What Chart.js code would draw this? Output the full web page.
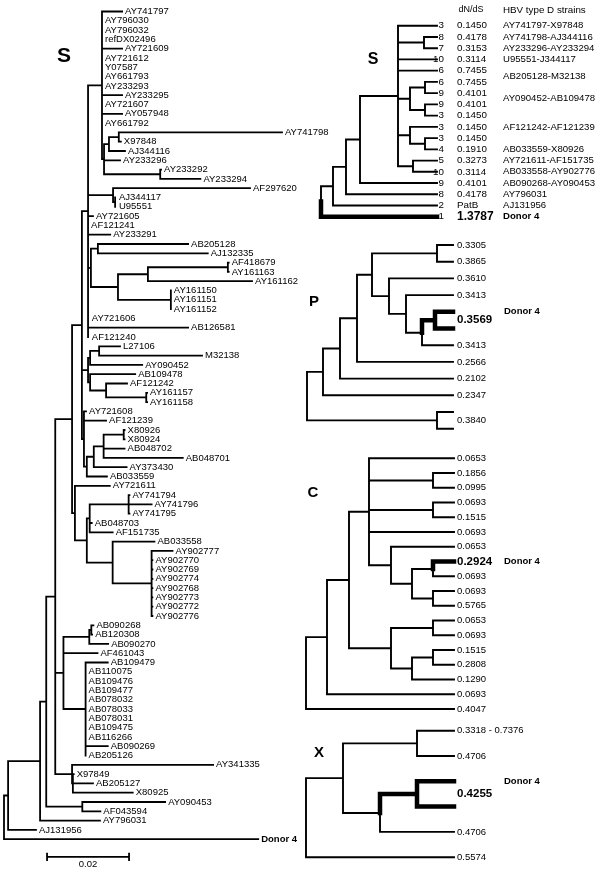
<!DOCTYPE html>
<html>
<head>
<meta charset="utf-8">
<title>HBV type D trees</title>
<script src="https://cdn.jsdelivr.net/npm/chart.js@4.4.1/dist/chart.umd.min.js"></script>
<style>
  html, body { margin: 0; padding: 0; background: #fff; }
  canvas { display: block; }
</style>
</head>
<body>
<canvas id="myChart" width="600" height="872"></canvas>
<script>
// ---- data ----

// S gene tree, branch lengths in substitutions per site (scale bar 0.02)
const cladeT = '(AY741797:0.0049,AY796030:0,AY796032:0,refDX02496:0,AY721609:0.0049,AY721612:0,Y07587:0,AY661793:0,AY233293:0,AY233295:0.0049,AY721607:0,AY057948:0.0049,AY661792:0,' +
  '(((AY741798:0.0398,X97848:0.0005):0.0024,AJ344116:0.0039):0.0012,AY233296:0.0039,(AY233292:0.0002,AY233294:0.0098):0.0137):0.0005):0.0034';
const cladeM = '(' + cladeT + ',(AF297620:0.0334,(AJ344117:0.0002,U95551:0.0002):0.0005):0.0061,AY721605:0.0012,AF121241:0,AY233291:0.0054,' +
  '((AB205128:0.0220,AJ132335:0.0268):0.0017,(((AF418679:0.0002,AY161163:0.0002):0.0195,AY161162:0.0254):0.0073,(AY161150:0,AY161151:0,AY161152:0):0.0129):0.0066):0.0007,' +
  'AY721606:0.0002,AB126581:0.0244,AF121240:0.0002):0.0015';
const cladeK = '(' + cladeM + ',(((L27106:0.0051,M32138:0.0251):0.0022,AY090452:0.0127):0.0005,(AB109478:0.0110,(AF121242:0.0051,(AY161157:0.0002,AY161158:0.0002):0.0098):0.0039):0.0005):0.0015,' +
  '(AY721608:0.0005,AF121239:0.0054,((((X80926:0.0002,X80924:0.0002):0.0049,AB048702:0.0051,AB048701:0.0193):0.0024,AY373430:0.0080):0.0017,AB033559:0.0049):0.0007):0.0005):0.0024';
const cladeJ = '(' + cladeK + ',(AY721611:0.0085,(((AY741794:0.0002,AY741796:0.0056,AY741795:0.0002):0.0095,AB048703:0.0005,AF151735:0.0056):0.0007,' +
  '(AB033558:0.0102,(AY902777:0.0051,AY902770:0.0002,AY902769:0.0002,AY902774:0.0002,AY902768:0.0002,AY902773:0.0002,AY902772:0.0002,AY902776:0.0002):0.0095):0.0063):0.0029):0.0007):0.0041';
const cladeA = '(' + cladeJ + ',(((AB090268:0.0005,AB120308:0.0002):0.0005,AB090270:0.0046):0.0063,AF461043:0.0083,' +
  '(AB109479:0.0054,AB110075:0,AB109476:0,AB109477:0,AB078032:0,AB078033:0,AB078031:0,AB109475:0,AB116266:0,AB090269:0.0054,AB205126:0):0.0054):0.0020,' +
  '(AY341335:0.0344,(X97849:0.0002,AB205127:0.0049,X80925:0.0146):0.0002):0.0041):0.0022';
const treeS = '((((' + cladeA + ',(AY090453:0.0202,AF043594:0.0044):0.0088):0.0015,AY796031:0.0146):0.0078,AJ131956:0.0068):0.0010,Donor 4:0.0620);';
const boldNames = ['Donor 4'];
const scaleBarLength = 0.02;

// small trees on the right, relative branch lengths, leaves in row order
const sTree = '(((((r1:39,(r2:13,r3:13):26,r4:39,r5:39,((r6:12,r7:12):15,(r8:12,r9:12):15):12,(r10:27,(r11:12,r12:12):15):12,(r13:24,r14:24):15):38,r15:77):14,r16:91):13,r17:104):12,r18:116);';
const pTree = '((((((p1:16,p2:16):65,(p3:64,(p4:47,((p5:18,p6:18):13,p7:31):16):17):17):15,p8:96):17,p9:113):17,p10:130):16,(p11:16,p12:16):130);';
const cTree = '((((c1:85,(c2:21,c3:21):64,(c4:21,c5:21):64,c6:85,(c7:63,((c8:21,c9:21):21,(c10:21,c11:21):21):21):22):20,((c12:21,c13:21):42,((c14:21,c15:21):21,c16:42):21):42):22,c17:127):21,c18:148);';
const xTree = '(((x1:37,x2:37):74,((x3:37,x4:37):37,x5:74):37):37,x6:148);';

const sDonor = ['r18'];
const pDonor = ['p5', 'p6'];
const cDonor = ['c8'];
const xDonor = ['x3', 'x4'];

// dN/dS labels: [text, first row, last row]
const sCounts = ['3', '8', '7', '10', '6', '6', '9', '9', '3', '3', '3', '4', '5', '10', '9', '8', '2', '1'];
const sRatios = ['0.1450', '0.4178', '0.3153', '0.3114', '0.7455', '0.7455', '0.4101', '0.4101', '0.1450',
  '0.1450', '0.1450', '0.1910', '0.3273', '0.3114', '0.4101', '0.4178', 'PatB', '1.3787'].map((s, i) => [s, i, i]);
const sStrains = [['AY741797-X97848', 0, 0], ['AY741798-AJ344116', 1, 1], ['AY233296-AY233294', 2, 2],
  ['U95551-J344117', 3, 3], ['AB205128-M32138', 4, 5], ['AY090452-AB109478', 6, 7], ['AF121242-AF121239', 9, 9],
  ['AB033559-X80926', 11, 11], ['AY721611-AF151735', 12, 12], ['AB033558-AY902776', 13, 13],
  ['AB090268-AY090453', 14, 14], ['AY796031', 15, 15], ['AJ131956', 16, 16], ['Donor 4', 17, 17]];
const pRatios = [['0.3305', 0, 0], ['0.3865', 1, 1], ['0.3610', 2, 2], ['0.3413', 3, 3], ['0.3569', 4, 5],
  ['0.3413', 6, 6], ['0.2566', 7, 7], ['0.2102', 8, 8], ['0.2347', 9, 9], ['0.3840', 10, 11]];
const cRatios = ['0.0653', '0.1856', '0.0995', '0.0693', '0.1515', '0.0693', '0.0653', '0.2924', '0.0693',
  '0.0693', '0.5765', '0.0653', '0.0693', '0.1515', '0.2808', '0.1290', '0.0693', '0.4047'].map((s, i) => [s, i, i]);
const xRatios = [['0.3318 - 0.7376', 0, 0], ['0.4706', 1, 1], ['0.4255', 2, 3], ['0.4706', 4, 4], ['0.5574', 5, 5]];

// ---- layout ----
const W = 600, H = 872;
const FONT = "'Liberation Sans', Arial, Helvetica, sans-serif";
const placement = {
  L: {rootX: 4, unitPx: 4100, top: 11.5, step: 9.3},
  S: {rootX: 321, unitPx: 1, top: 25.7, step: 11.24, letter: [373, 60, 16]},
  P: {rootX: 307, unitPx: 1, top: 245, step: 16.7, letter: [314, 302, 15]},
  C: {rootX: 306, unitPx: 1, top: 458.3, step: 14.75, letter: [313, 493, 15]},
  X: {rootX: 306, unitPx: 1, top: 730.7, step: 25.3, letter: [319, 753, 15]}
};

function parseNewick(src) {
  const s = src.replace(/\s*([(),:;])\s*/g, '$1');
  let i = 0;
  function node() {
    const n = {children: [], name: '', len: 0};
    if (s[i] === '(') {
      i++;
      n.children.push(node());
      while (s[i] === ',') { i++; n.children.push(node()); }
      i++;
    }
    let name = '';
    while (i < s.length && !':,);'.includes(s[i])) name += s[i++];
    n.name = name;
    if (s[i] === ':') {
      i++;
      let num = '';
      while (i < s.length && !',);'.includes(s[i])) num += s[i++];
      n.len = parseFloat(num);
    }
    return n;
  }
  return node();
}

// x = distance from root, y = leaf row, inner node sits half way between its outer children
function layoutTree(root, donors) {
  const leaves = [];
  (function walk(n, depth) {
    n.x = depth + n.len;
    if (!n.children.length) {
      n.y = leaves.length;
      n.thick = donors.includes(n.name);
      leaves.push(n);
    } else {
      n.children.forEach(c => walk(c, n.x));
      n.y = (n.children[0].y + n.children[n.children.length - 1].y) / 2;
      n.thick = n.children.every(c => c.thick);
    }
  })(root, 0);
  return leaves;
}

function branchLines(root) {
  const thin = [], thick = [];
  const seg = (list, x1, y1, x2, y2) => list.push({x: x1, y: y1}, {x: x2, y: y2}, {x: x2, y: null});
  (function walk(n) {
    if (!n.children.length) return;
    const first = n.children[0], last = n.children[n.children.length - 1];
    seg(n.thick ? thick : thin, n.x, first.y, n.x, last.y);
    n.children.forEach(c => {
      seg(c.thick ? thick : thin, n.x, c.y, c.x, c.y);
      if (c.thick && !n.thick) seg(thick, n.x, n.y, n.x, c.y);
      walk(c);
    });
  })(root);
  return {thin, thick};
}

const leftRoot = parseNewick(treeS);
const leftLeaves = layoutTree(leftRoot, []);
const leftLines = branchLines(leftRoot);

const rightTrees = [
  {key: 'S', newick: sTree, donors: sDonor, ratios: sRatios},
  {key: 'P', newick: pTree, donors: pDonor, ratios: pRatios},
  {key: 'C', newick: cTree, donors: cDonor, ratios: cRatios},
  {key: 'X', newick: xTree, donors: xDonor, ratios: xRatios}
];
rightTrees.forEach(t => {
  t.root = parseNewick(t.newick);
  t.leaves = layoutTree(t.root, t.donors);
  t.lines = branchLines(t.root);
});

// scale bar sits under the last leaf
const scaleBarStart = 0.0105;
const scaleBarRow = leftLeaves.length + 0.9;
const scaleBar = [
  {x: scaleBarStart, y: scaleBarRow}, {x: scaleBarStart + scaleBarLength, y: scaleBarRow}, {x: 0, y: null},
  {x: scaleBarStart, y: scaleBarRow - 0.35}, {x: scaleBarStart, y: scaleBarRow + 0.35}, {x: 0, y: null},
  {x: scaleBarStart + scaleBarLength, y: scaleBarRow - 0.35}, {x: scaleBarStart + scaleBarLength, y: scaleBarRow + 0.35}
];

const lineSet = (data, key, width) => ({
  data: data, xAxisID: 'x' + key, yAxisID: 'y' + key,
  showLine: true, fill: false, pointRadius: 0, borderColor: '#000', borderWidth: width,
  borderCapStyle: 'square', borderJoinStyle: 'miter', tension: 0, spanGaps: false
});

const datasets = [lineSet(leftLines.thin, 'L', 1.8), lineSet(scaleBar, 'L', 1.8)];
rightTrees.forEach(t => {
  datasets.push(lineSet(t.lines.thin, t.key, 1.9));
  datasets.push(lineSet(t.lines.thick, t.key, 4.5));
});

const scales = {x: {display: false}, y: {display: false}};
Object.keys(placement).forEach(k => {
  const p = placement[k];
  scales['x' + k] = {type: 'linear', axis: 'x', display: false, bounds: 'data',
    min: -p.rootX / p.unitPx, max: (W - p.rootX) / p.unitPx};
  scales['y' + k] = {type: 'linear', axis: 'y', display: false, bounds: 'data', reverse: true,
    min: -p.top / p.step, max: (H - p.top) / p.step};
});

const labelPlugin = {
  id: 'treeLabels',
  afterDatasetsDraw(chart) {
    const ctx = chart.ctx;
    const put = (str, x, y, font, align) => {
      ctx.font = font + ' ' + FONT;
      ctx.textAlign = align || 'left';
      ctx.fillText(str, x, y);
    };
    ctx.save();
    ctx.fillStyle = '#000';
    ctx.textBaseline = 'middle';

    const xL = chart.scales.xL, yL = chart.scales.yL;
    leftLeaves.forEach(leaf => {
      const bold = boldNames.includes(leaf.name);
      put(leaf.name, xL.getPixelForValue(leaf.x) + 3, yL.getPixelForValue(leaf.y), bold ? 'bold 9.5px' : '9.5px');
    });
    put(String(scaleBarLength), xL.getPixelForValue(scaleBarStart + scaleBarLength / 2),
      yL.getPixelForValue(scaleBarRow + 0.85), '9.5px', 'center');
    put('S', 64, 56, 'bold 21px', 'center');

    put('dN/dS', 471, 10, '9px', 'center');
    put('HBV type D strains', 503, 10, '9.8px');

    rightTrees.forEach(t => {
      const ys = chart.scales['y' + t.key];
      const rowY = (a, b) => ys.getPixelForValue((a + b) / 2);
      const isDonor = (a, b) => t.leaves.slice(a, b + 1).every(l => l.thick);
      const big = t.key === 'S' ? 'bold 12px' : 'bold 11.5px';
      t.ratios.forEach(([str, a, b]) => {
        put(str, 457, rowY(a, b), isDonor(a, b) ? big : (t.key === 'S' ? '9.8px' : '9.5px'));
      });
      if (t.key === 'S') {
        sCounts.forEach((n, i) => put(n, 444, rowY(i, i), '9.8px', 'right'));
        sStrains.forEach(([str, a, b]) => put(str, 503, rowY(a, b), isDonor(a, b) ? 'bold 9.6px' : '9.6px'));
      } else {
        const d = t.leaves.findIndex(l => l.thick);
        put('Donor 4', 504, rowY(d, d), 'bold 9.5px');
      }
      const [lx, ly, size] = placement[t.key].letter;
      put(t.key, lx, ly, 'bold ' + size + 'px', 'center');
    });
    ctx.restore();
  }
};

new Chart(document.getElementById('myChart'), {
  type: 'scatter',
  data: {datasets: datasets},
  options: {
    responsive: false,
    animation: false,
    events: [],
    devicePixelRatio: 1,
    layout: {padding: 0, autoPadding: false},
    plugins: {legend: {display: false}, tooltip: {enabled: false}},
    scales: scales
  },
  plugins: [labelPlugin]
});
</script>
</body>
</html>
